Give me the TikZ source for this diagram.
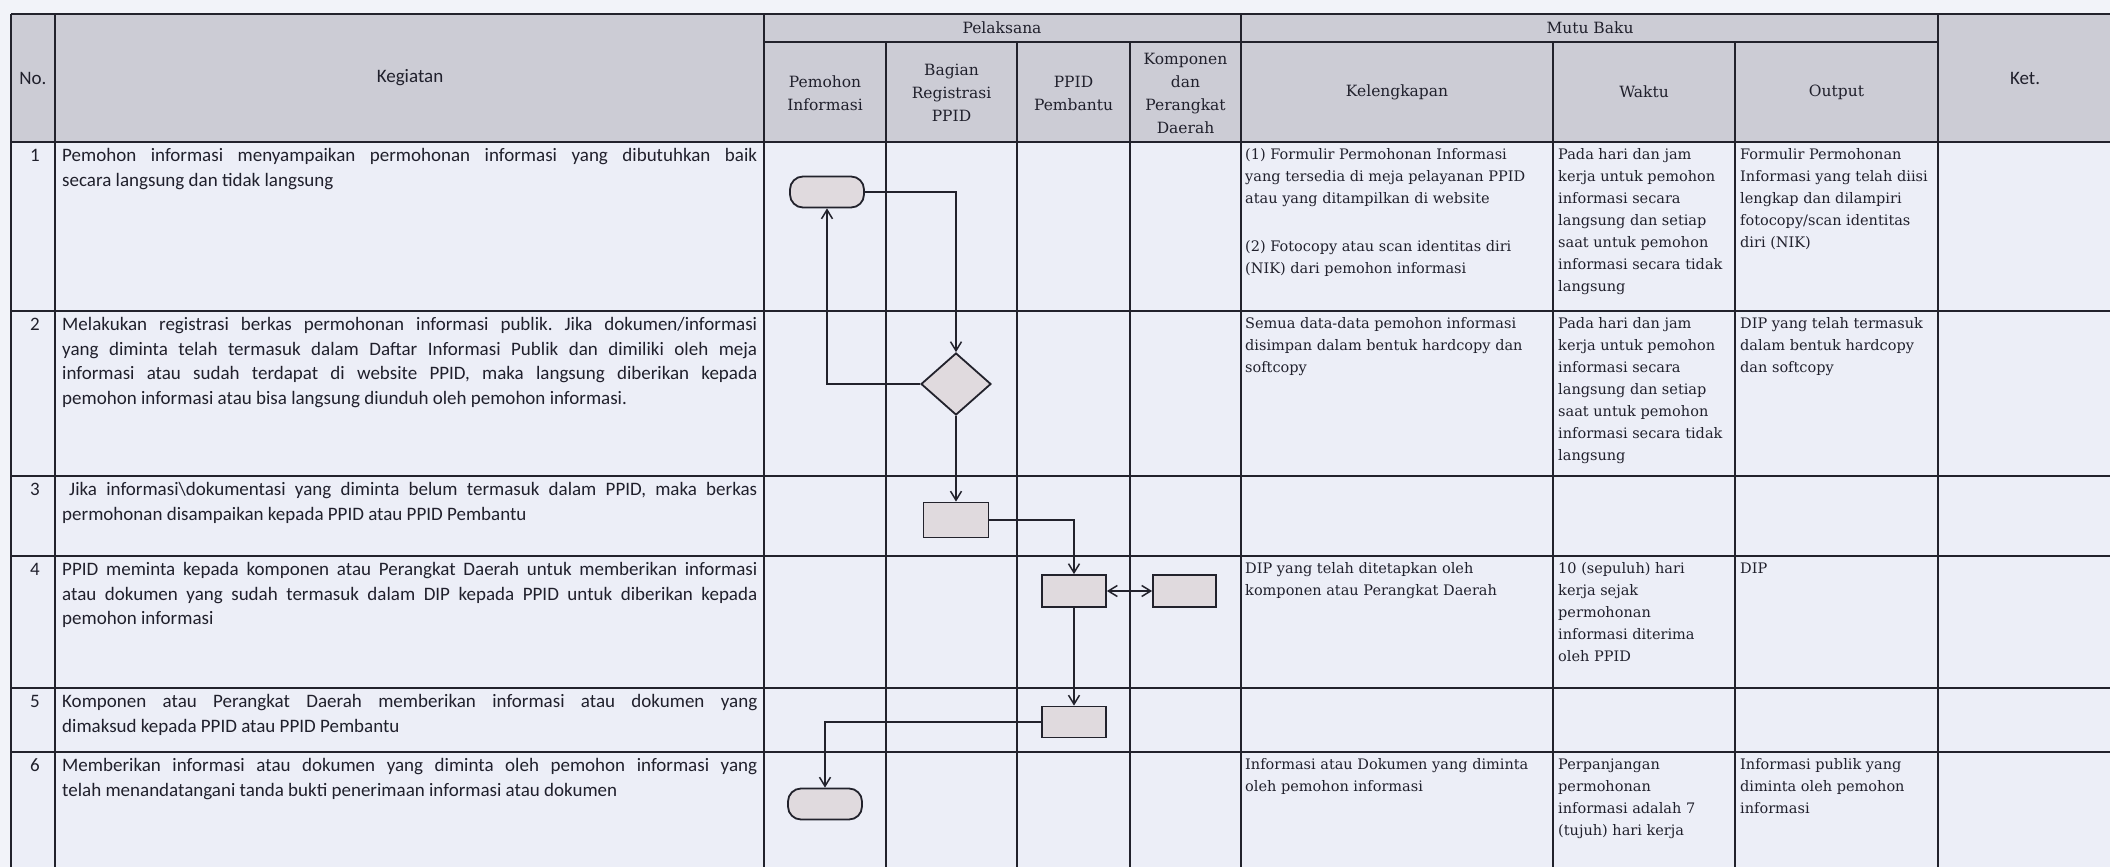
\documentclass[tikz,border=0pt]{standalone}
\usepackage{fontspec}
\setmainfont{DejaVu Serif}
\newfontfamily\calfont{Carlito}
\usetikzlibrary{arrows.meta,shapes.geometric}
\definecolor{bgc}{RGB}{242,243,249}
\definecolor{cellc}{RGB}{236,238,247}
\definecolor{headc}{RGB}{204,204,213}
\definecolor{linec}{RGB}{34,34,44}
\definecolor{shapec}{RGB}{224,218,222}
\definecolor{txtc}{RGB}{32,32,44}
\newcommand{\jline}[1]{\makebox[695pt][s]{#1}}
\frenchspacing
\tikzset{
  grid/.style={draw=linec, line width=2.2pt},
  keg/.style={anchor=north west, inner sep=0pt, text=txtc, font=\calfont\fontsize{19}{24.5}\selectfont},
  num/.style={anchor=base, inner sep=0pt, text=txtc, font=\calfont\fontsize{19}{24.5}\selectfont},
  mutu/.style={anchor=north west, inner sep=0pt, text=txtc, font=\fontsize{14.5}{22}\selectfont},
  hdr/.style={align=center, inner sep=0pt, text=txtc, font=\fontsize{15.5}{23}\selectfont},
  hdrc/.style={align=center, inner sep=0pt, text=txtc, font=\calfont\fontsize{19}{24}\selectfont},
  term/.style={draw=linec, fill=shapec, line width=1.8pt, rounded corners=13pt, minimum width=74pt, minimum height=31pt, inner sep=0pt},
  proc/.style={draw=linec, fill=shapec, line width=1.8pt, minimum width=64pt, minimum height=32pt, inner sep=0pt},
  dec/.style={draw=linec, fill=shapec, line width=1.8pt, diamond, minimum width=70pt, minimum height=62pt, inner sep=0pt},
  arr/.style={draw=linec, line width=1.6pt, -{Straight Barb[length=9pt,width=11pt,line width=1.5pt]}},
  darr/.style={draw=linec, line width=1.6pt, {Straight Barb[length=9pt,width=11pt,line width=1.5pt]}-{Straight Barb[length=9pt,width=11pt,line width=1.5pt]}}
}
\begin{document}
\begin{tikzpicture}[x=1pt,y=-1pt]
\useasboundingbox (0,0) rectangle (2110,867);
\fill[bgc] (0,0) rectangle (2110,867);
\fill[cellc] (11,14) rectangle (2120,880);
\fill[headc] (11,14) rectangle (2120,142);
% horizontal grid lines
\foreach \yy in {14,142,311,476,556,688,752}
  \draw[grid] (11,\yy) -- (2120,\yy);
\draw[grid] (764,42) -- (1938,42);
% vertical grid lines
\foreach \xx in {11,55,764,1241,1938}
  \draw[grid] (\xx,14) -- (\xx,880);
\foreach \xx in {886,1017,1130,1553,1735}
  \draw[grid] (\xx,42) -- (\xx,880);

% header
\node[hdrc] (hno) at (33,78) {No.};
\node[hdrc] (hkeg) at (410,78) {Kegiatan};
\node[hdr] (hpel) at (1002,28) {Pelaksana};
\node[hdr] (hmutu) at (1590,28) {Mutu Baku};
\node[hdrc] (hket) at (2025,78) {Ket.};
\node[hdr] (hpem) at (825,93) {Pemohon\\Informasi};
\node[hdr] (hbag) at (951.5,93) {Bagian\\Registrasi\\PPID};
\node[hdr] (hppid) at (1073.5,93) {PPID\\Pembantu};
\node[hdr] (hkomp) at (1185.5,93) {Komponen\\dan\\Perangkat\\Daerah};
\node[hdr] (hkel) at (1397,92) {Kelengkapan};
\node[hdr] (hwak) at (1644,92) {Waktu};
\node[hdr] (hout) at (1836.5,92) {Output};

% numbers
\node[num] (n1) at (35,161.5) {1};
\node[num] (n2) at (35,330.5) {2};
\node[num] (n3) at (35,495.5) {3};
\node[num] (n4) at (35,575.5) {4};
\node[num] (n5) at (35,707.5) {5};
\node[num] (n6) at (35,771.5) {6};

% kegiatan
\node[keg] (k1) at (62,144.5) {\parbox[t]{700pt}{\strut\jline{Pemohon informasi menyampaikan permohonan informasi yang dibutuhkan baik}\\secara langsung dan tidak langsung}};
\node[keg] (k2) at (62,313.5) {\parbox[t]{700pt}{\strut\jline{Melakukan registrasi berkas permohonan informasi publik. Jika dokumen/informasi}\\\jline{yang diminta telah termasuk dalam Daftar Informasi Publik dan dimiliki oleh meja}\\\jline{informasi atau sudah terdapat di website PPID, maka langsung diberikan kepada}\\pemohon informasi atau bisa langsung diunduh oleh pemohon informasi.}};
\node[keg] (k3) at (62,478.5) {\parbox[t]{700pt}{\strut\hspace*{7pt}\makebox[688pt][s]{Jika informasi\textbackslash dokumentasi yang diminta belum termasuk dalam PPID, maka berkas}\\permohonan disampaikan kepada PPID atau PPID Pembantu}};
\node[keg] (k4) at (62,558.5) {\parbox[t]{700pt}{\strut\jline{PPID meminta kepada komponen atau Perangkat Daerah untuk memberikan informasi}\\\jline{atau dokumen yang sudah termasuk dalam DIP kepada PPID untuk diberikan kepada}\\pemohon informasi}};
\node[keg] (k5) at (62,690.5) {\parbox[t]{700pt}{\strut\jline{Komponen atau Perangkat Daerah memberikan informasi atau dokumen yang}\\dimaksud kepada PPID atau PPID Pembantu}};
\node[keg] (k6) at (62,754.5) {\parbox[t]{700pt}{\strut\jline{Memberikan informasi atau dokumen yang diminta oleh pemohon informasi yang}\\telah menandatangani tanda bukti penerimaan informasi atau dokumen}};

% kelengkapan
\node[mutu] (kl1) at (1245,143.5) {\parbox[t]{305pt}{\strut(1) Formulir Permohonan Informasi\\yang tersedia di meja pelayanan PPID\\atau yang ditampilkan di website\\[26pt](2) Fotocopy atau scan identitas diri\\(NIK) dari pemohon informasi}};
\node[mutu] (kl2) at (1245,312.5) {\parbox[t]{305pt}{\strut Semua data-data pemohon informasi\\disimpan dalam bentuk hardcopy dan\\softcopy}};
\node[mutu] (kl4) at (1245,557.5) {\parbox[t]{305pt}{\strut DIP yang telah ditetapkan oleh\\komponen atau Perangkat Daerah}};
\node[mutu] (kl6) at (1245,753.5) {\parbox[t]{305pt}{\strut Informasi atau Dokumen yang diminta\\oleh pemohon informasi}};

% waktu
\node[mutu] (w1) at (1558,143.5) {\parbox[t]{175pt}{\strut Pada hari dan jam\\kerja untuk pemohon\\informasi secara\\langsung dan setiap\\saat untuk pemohon\\informasi secara tidak\\langsung}};
\node[mutu] (w2) at (1558,312.5) {\parbox[t]{175pt}{\strut Pada hari dan jam\\kerja untuk pemohon\\informasi secara\\langsung dan setiap\\saat untuk pemohon\\informasi secara tidak\\langsung}};
\node[mutu] (w4) at (1558,557.5) {\parbox[t]{175pt}{\strut 10 (sepuluh) hari\\kerja sejak\\permohonan\\informasi diterima\\oleh PPID}};
\node[mutu] (w6) at (1558,753.5) {\parbox[t]{175pt}{\strut Perpanjangan\\permohonan\\informasi adalah 7\\(tujuh) hari kerja}};

% output
\node[mutu] (o1) at (1740,143.5) {\parbox[t]{195pt}{\strut Formulir Permohonan\\Informasi yang telah diisi\\lengkap dan dilampiri\\fotocopy/scan identitas\\diri (NIK)}};
\node[mutu] (o2) at (1740,312.5) {\parbox[t]{195pt}{\strut DIP yang telah termasuk\\dalam bentuk hardcopy\\dan softcopy}};
\node[mutu] (o4) at (1740,557.5) {\parbox[t]{195pt}{\strut DIP}};
\node[mutu] (o6) at (1740,753.5) {\parbox[t]{195pt}{\strut Informasi publik yang\\diminta oleh pemohon\\informasi}};

% flow shapes
\node[term] (t1) at (827,192) {};
\node[dec] (d1) at (956,384) {};
\node[proc, minimum width=65pt, minimum height=35pt] (r3) at (956,520) {};
\node[proc] (r4) at (1074,591) {};
\node[proc, minimum width=63pt] (r5) at (1184.5,591) {};
\node[proc, minimum height=31pt] (r6) at (1074,722) {};
\node[term] (t2) at (825,804) {};

% connectors
\draw[arr] (t1.east) -| (d1.north);
\draw[arr] (d1.west) -| (t1.south);
\draw[arr] (d1.south) -- (r3.north);
\draw[arr] (r3.east) -| (r4.north);
\draw[darr] (r4.east) -- (r5.west);
\draw[arr] (r4.south) -- (r6.north);
\draw[arr] (r6.west) -| (t2.north);
\end{tikzpicture}
\end{document}
